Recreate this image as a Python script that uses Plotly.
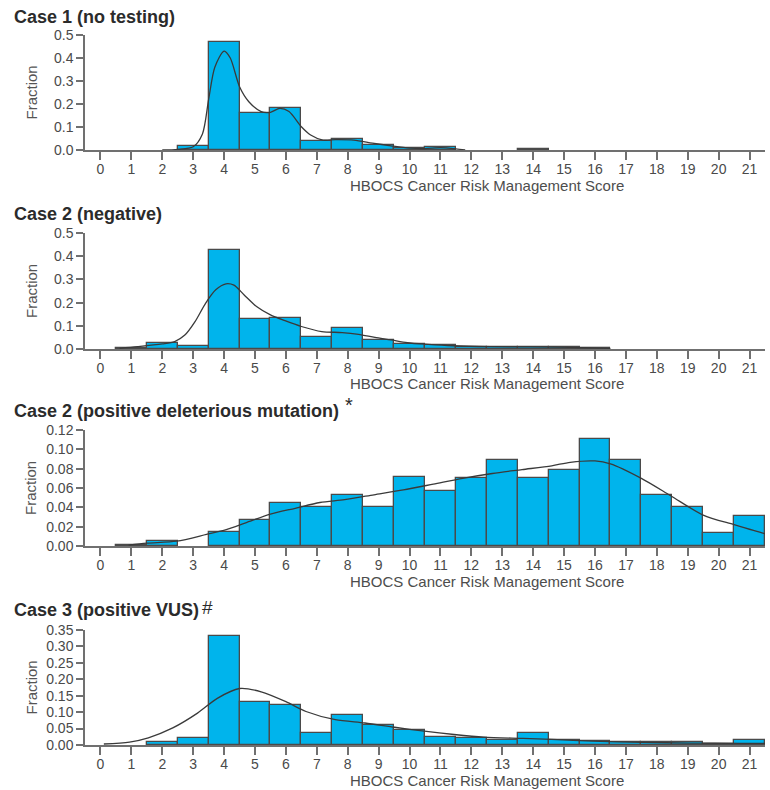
import plotly.graph_objects as go

# ---------------- data ----------------
scores = list(range(0, 22))
score_labels = [str(s) for s in scores]

case1_bars = [0, 0, 0, 0.017, 0.47, 0.16, 0.184, 0.04, 0.046, 0.022, 0.008, 0.015,
              0, 0, 0.004, 0, 0, 0, 0, 0, 0, 0]
case1_curve_x = [2.0, 2.5, 3.0, 3.3, 3.5, 3.7, 4.0, 4.2, 4.5, 4.8, 5.2, 5.5, 5.8, 6.1,
                 6.5, 6.8, 7.2, 7.6, 8.2, 8.8, 9.4, 10.0, 10.5, 11.0, 11.5, 11.8]
case1_curve_y = [0.0, 0.003, 0.014, 0.07, 0.22, 0.36, 0.43, 0.40, 0.275, 0.21, 0.167, 0.164,
                 0.181, 0.167, 0.101, 0.065, 0.043, 0.045, 0.043, 0.03, 0.018, 0.008, 0.006,
                 0.01, 0.005, 0.0]

case2neg_bars = [0, 0.003, 0.028, 0.013, 0.428, 0.128, 0.133, 0.053, 0.092, 0.039, 0.022,
                 0.017, 0.01, 0.01, 0.01, 0.01, 0.003, 0, 0, 0, 0, 0]
case2neg_curve_x = [0.62, 1.2, 2.0, 2.4, 2.73, 3.06, 3.4, 3.73, 4.06, 4.32, 4.65, 5.05, 5.5,
                    5.97, 6.5, 7.16, 7.82, 8.35, 8.88, 9.4, 9.93, 10.6, 11.4, 12.6, 13.9,
                    15.2, 16.5]
case2neg_curve_y = [0.003, 0.01, 0.022, 0.032, 0.06, 0.118, 0.197, 0.255, 0.281, 0.275, 0.233,
                    0.183, 0.147, 0.122, 0.097, 0.075, 0.071, 0.063, 0.05, 0.039, 0.027, 0.02,
                    0.014, 0.01, 0.009, 0.007, 0.003]

case2pos_bars = [0, 0.001, 0.005, 0, 0.014, 0.027, 0.044, 0.040, 0.053, 0.040, 0.071, 0.057,
                 0.070, 0.089, 0.070, 0.079, 0.111, 0.089, 0.053, 0.040, 0.0135, 0.031]
case2pos_curve_x = [0.91, 1.5, 2.47, 3.43, 4.07, 4.7, 5.5, 6.3, 7.1, 7.9, 8.85, 9.8, 10.77,
                    11.72, 12.68, 13.64, 14.6, 15.2, 16.0, 16.5, 17.5, 18.45, 19.5, 20.5,
                    21.46, 21.7]
case2pos_curve_y = [0.001, 0.003, 0.005, 0.012, 0.017, 0.024, 0.033, 0.039, 0.045, 0.048,
                    0.053, 0.058, 0.064, 0.070, 0.075, 0.079, 0.083, 0.0866, 0.088, 0.085,
                    0.070, 0.052, 0.032, 0.022, 0.013, 0.0114]

case3_bars = [0, 0, 0.008, 0.022, 0.331, 0.130, 0.122, 0.037, 0.092, 0.062, 0.047, 0.024,
              0.022, 0.014, 0.037, 0.015, 0.012, 0.008, 0.008, 0.010, 0.004, 0.014]
case3_curve_x = [0.11, 0.94, 1.55, 2.34, 3.14, 3.78, 4.5, 5.2, 6.0, 6.65, 7.6, 8.56, 9.52,
                 10.48, 11.44, 12.4, 13.67, 14.6, 15.9, 17.5, 19.1, 20.7, 21.6]
case3_curve_y = [0.003, 0.009, 0.022, 0.052, 0.097, 0.142, 0.172, 0.162, 0.132, 0.102, 0.077,
                 0.067, 0.054, 0.042, 0.032, 0.024, 0.020, 0.017, 0.012, 0.008, 0.006, 0.005,
                 0.005]

panel_titles = ["Case 1 (no testing)", "Case 2 (negative)",
                "Case 2 (positive deleterious mutation)", "Case 3 (positive VUS)"]
panel_marks = ["", "", "*", "#"]
x_title = "HBOCS Cancer Risk Management Score"
y_title = "Fraction"

y1_ticks = [0.0, 0.1, 0.2, 0.3, 0.4, 0.5]
y2_ticks = [0.0, 0.1, 0.2, 0.3, 0.4, 0.5]
y3_ticks = [0.00, 0.02, 0.04, 0.06, 0.08, 0.10, 0.12]
y4_ticks = [0.00, 0.05, 0.10, 0.15, 0.20, 0.25, 0.30, 0.35]

# ---------------- layout helpers ----------------
W, H = 770, 790
ML, MR = 85, 5
PW = W - ML - MR


def px_x(px):
    return (px - ML) / PW


def px_y(py):
    return 1 - py / H


panels = [
    dict(bars=case1_bars, cx=case1_curve_x, cy=case1_curve_y, ticks=y1_ticks, fmt="{:.1f}",
         top=35, bottom=150, title_y=17),
    dict(bars=case2neg_bars, cx=case2neg_curve_x, cy=case2neg_curve_y, ticks=y2_ticks,
         fmt="{:.1f}", top=233, bottom=349, title_y=214),
    dict(bars=case2pos_bars, cx=case2pos_curve_x, cy=case2pos_curve_y, ticks=y3_ticks,
         fmt="{:.2f}", top=430, bottom=546, title_y=411),
    dict(bars=case3_bars, cx=case3_curve_x, cy=case3_curve_y, ticks=y4_ticks, fmt="{:.2f}",
         top=630, bottom=745, title_y=610),
]

FONT = "Liberation Sans, Arial, Helvetica, sans-serif"
BAR_FILL = "#00B4EC"
BAR_LINE = "#4a4a4a"
AXIS_COL = "#707070"
TICK_FONT = dict(family=FONT, size=14, color="#4a4a4a")

fig = go.Figure()
annotations = []
layout_axes = {}

for i, p in enumerate(panels):
    n = i + 1
    xa = "x" if n == 1 else f"x{n}"
    ya = "y" if n == 1 else f"y{n}"
    bar_y = [v if v > 0 else None for v in p["bars"]]
    fig.add_trace(go.Bar(
        x=scores, y=bar_y, width=1, xaxis=xa, yaxis=ya,
        marker=dict(color=BAR_FILL, line=dict(color=BAR_LINE, width=1.3)),
        showlegend=False, hoverinfo="x+y",
    ))
    fig.add_trace(go.Scatter(
        x=p["cx"], y=p["cy"], mode="lines", xaxis=xa, yaxis=ya,
        line=dict(color="#3a3a3a", width=1.3, shape="spline", smoothing=0.8),
        showlegend=False, hoverinfo="skip",
    ))
    ymax = p["ticks"][-1]
    layout_axes["xaxis" if n == 1 else f"xaxis{n}"] = dict(
        domain=[0, 1], anchor=ya, range=[-0.5, 21.5], automargin=False,
        tickmode="array", tickvals=scores, ticktext=score_labels,
        showline=True, linecolor=AXIS_COL, linewidth=1.5,
        ticks="outside", ticklen=8, tickwidth=1.5, tickcolor=AXIS_COL,
        ticklabelstandoff=-3,
        tickfont=TICK_FONT, showgrid=False, zeroline=False, fixedrange=True,
    )
    layout_axes["yaxis" if n == 1 else f"yaxis{n}"] = dict(
        domain=[px_y(p["bottom"]), px_y(p["top"])], anchor=xa, range=[0, ymax],
        automargin=False,
        tickmode="array", tickvals=p["ticks"], ticktext=[p["fmt"].format(t) for t in p["ticks"]],
        showline=True, linecolor=AXIS_COL, linewidth=1.5,
        ticks="outside", ticklen=7, tickwidth=1.5, tickcolor=AXIS_COL,
        tickfont=TICK_FONT, showgrid=False, zeroline=False, fixedrange=True,
    )
    # panel title
    annotations.append(dict(
        text=f"<b>{panel_titles[i]}</b>", xref="paper", yref="paper",
        x=px_x(12), y=px_y(p["title_y"]), xanchor="left", yanchor="middle",
        showarrow=False, font=dict(family=FONT, size=18, color="#2b2b2b"),
    ))
    # y title
    annotations.append(dict(
        text=y_title, xref="paper", yref="paper", textangle=-90,
        x=px_x(31), y=px_y((p["top"] + p["bottom"]) / 2), xanchor="center", yanchor="middle",
        showarrow=False, font=dict(family=FONT, size=15, color="#555555"),
    ))
    # x title
    annotations.append(dict(
        text=x_title, xref="paper", yref="paper",
        x=px_x(487), y=px_y(p["bottom"] + 35), xanchor="center", yanchor="middle",
        showarrow=False, font=dict(family=FONT, size=15, color="#4d4d4d"),
    ))

# superscript marks after titles
annotations.append(dict(
    text=panel_marks[2], xref="paper", yref="paper", x=px_x(343), y=px_y(405),
    xanchor="left", yanchor="middle", showarrow=False,
    font=dict(family=FONT, size=20, color="#2b2b2b"),
))
annotations.append(dict(
    text=panel_marks[3], xref="paper", yref="paper", x=px_x(200), y=px_y(607),
    xanchor="left", yanchor="middle", showarrow=False,
    font=dict(family=FONT, size=19, color="#2b2b2b"),
))

fig.update_layout(
    width=W, height=H,
    margin=dict(l=ML, r=MR, t=0, b=0, pad=0),
    paper_bgcolor="white", plot_bgcolor="white",
    bargap=0, barmode="overlay",
    annotations=annotations,
    **layout_axes,
)

fig.write_html(
    "out.html",
    config={"displayModeBar": False},
    post_script="document.body.style.margin='0';document.body.style.padding='0';"
                "document.documentElement.style.overflow='hidden';",
)
